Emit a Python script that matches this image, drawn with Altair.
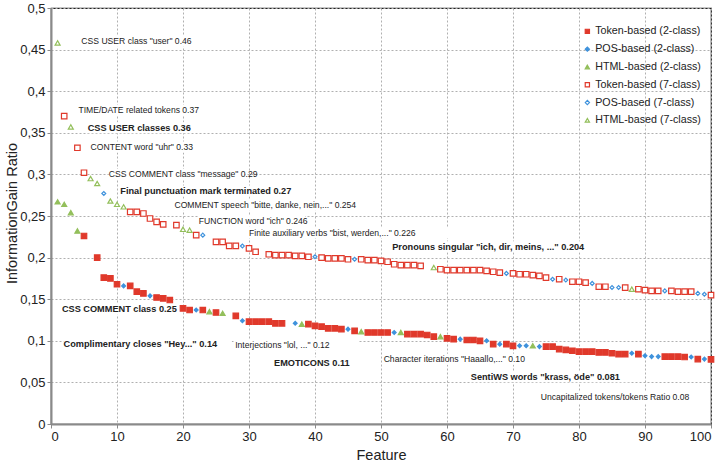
import altair as alt
import pandas as pd

# ---------------- data ----------------
# 7-class series (hollow markers): feature rank, feature type, information gain ratio
up_x = [1, 2, 3, 4, 5, 6, 7, 8, 9, 10, 11, 12, 13, 14, 15, 16, 17, 19, 20, 21, 22, 23,
        25, 26, 27, 28, 29, 30, 31, 33, 34, 35, 36, 37, 38, 39, 40, 41, 42, 43, 44, 45,
        46, 47, 48, 49, 50, 51, 52, 53, 54, 55, 56, 58, 59, 60, 61, 62, 63, 64, 65, 66,
        67, 68, 69, 70, 71, 72, 73, 74, 75, 76, 77, 78, 79, 80, 81, 82, 83, 84, 85, 86,
        87, 88, 89, 90, 91, 92, 93, 94, 95, 96, 97, 98, 99, 100]
up_t = ["H", "T", "H", "T", "T", "H", "H", "P", "H", "H", "H", "T", "T", "T", "T", "T", "T", "T", "H", "H", "T", "P",
        "T", "T", "T", "T", "P", "T", "T", "T", "T", "T", "T", "T", "T", "T", "P", "T", "T", "T", "T", "T",
        "P", "T", "T", "T", "T", "T", "T", "T", "T", "T", "T", "H", "T", "T", "T", "T", "T", "T", "T", "T",
        "T", "T", "P", "T", "T", "T", "T", "T", "T", "P", "T", "P", "T", "T", "T", "P", "T", "T", "P", "P",
        "T", "H", "T", "T", "T", "T", "P", "T", "T", "T", "T", "P", "P", "T"]
up_y = [0.458, 0.370, 0.357, 0.332, 0.302, 0.295, 0.289, 0.277, 0.268, 0.264, 0.261, 0.255, 0.255, 0.253,
        0.247, 0.243, 0.240, 0.239, 0.234, 0.233, 0.227, 0.227,
        0.219, 0.219, 0.214, 0.214, 0.214, 0.211, 0.207, 0.204, 0.203, 0.203, 0.203, 0.202, 0.202, 0.201,
        0.201, 0.200, 0.199, 0.199, 0.199, 0.198,
        0.198, 0.198, 0.197, 0.197, 0.196, 0.195, 0.192, 0.191, 0.191, 0.191, 0.190, 0.188, 0.186, 0.185,
        0.185, 0.185, 0.185, 0.185, 0.185, 0.184,
        0.183, 0.182, 0.181, 0.181, 0.180, 0.180, 0.179, 0.178, 0.176, 0.174, 0.174, 0.173, 0.171, 0.171,
        0.170, 0.169, 0.165, 0.165, 0.164, 0.164,
        0.164, 0.162, 0.162, 0.161, 0.160, 0.160, 0.160, 0.160, 0.159, 0.159, 0.159, 0.157, 0.156, 0.155]

# 2-class series (filled markers)
lo_x = [1, 2, 3, 4, 5, 7, 8, 9, 10, 11, 12, 13, 14, 15, 16, 17, 18, 20, 21, 22, 23, 24, 25, 26,
        28, 29, 30, 31, 32, 33, 34, 35, 37, 38, 39, 40, 41, 42, 43, 44, 45, 46, 47, 48, 49, 50,
        51, 52, 53, 54, 55, 56, 57, 58, 59, 60, 61, 62, 63, 64, 65, 66, 67, 68, 69, 70, 71, 72,
        73, 74, 75, 76, 77, 78, 79, 80, 81, 82, 83, 84, 85, 86, 87, 88, 89, 90, 91, 92, 93, 94,
        95, 96, 97, 98, 99, 100]
lo_t = ["H", "H", "H", "H", "T", "T", "T", "T", "T", "P", "T", "T", "T", "P", "T", "T", "T", "T", "T", "P", "T", "H", "T", "H",
        "T", "P", "T", "T", "T", "T", "T", "T", "P", "H", "T", "T", "T", "T", "T", "T", "P", "T", "H", "T", "T", "T",
        "T", "P", "H", "T", "T", "T", "T", "T", "H", "T", "T", "P", "T", "T", "T", "P", "T", "P", "T", "T", "P", "P",
        "H", "P", "T", "T", "T", "T", "T", "T", "T", "T", "T", "T", "T", "T", "T", "P", "T", "P", "P", "P", "T", "T",
        "T", "T", "P", "T", "P", "T"]
lo_y = [0.267, 0.264, 0.254, 0.232, 0.226, 0.200, 0.176, 0.175, 0.168, 0.166, 0.166, 0.159, 0.157, 0.154,
        0.152, 0.151, 0.149, 0.139, 0.137, 0.137, 0.137, 0.135, 0.134, 0.133,
        0.130, 0.124, 0.123, 0.123, 0.123, 0.123, 0.121, 0.121, 0.121, 0.120, 0.120, 0.118, 0.117, 0.115,
        0.115, 0.114, 0.114, 0.112, 0.111, 0.110, 0.110, 0.110,
        0.110, 0.110, 0.110, 0.108, 0.108, 0.108, 0.107, 0.105, 0.105, 0.103, 0.102, 0.102, 0.101, 0.101,
        0.100, 0.100, 0.096, 0.096, 0.096, 0.094, 0.094, 0.094,
        0.094, 0.093, 0.093, 0.093, 0.090, 0.089, 0.088, 0.087, 0.087, 0.087, 0.086, 0.086, 0.085, 0.084,
        0.084, 0.085, 0.084, 0.082, 0.081, 0.081, 0.081, 0.081,
        0.081, 0.0805, 0.0805, 0.078, 0.078, 0.0777]

type_names = {"T": "Token-based", "P": "POS-based", "H": "HTML-based"}
series_order = ["Token-based (2-class)", "POS-based (2-class)", "HTML-based (2-class)",
                "Token-based (7-class)", "POS-based (7-class)", "HTML-based (7-class)"]

# annotations
ann_text = ['CSS USER class "user" 0.46', 'TIME/DATE related tokens 0.37', 'CSS USER classes 0.36',
            'CONTENT word "uhr" 0.33', 'CSS COMMENT class "message" 0.29',
            'Final punctuation mark terminated 0.27', 'COMMENT speech "bitte, danke, nein,..." 0.254',
            'FUNCTION word "ich" 0.246', 'Finite auxiliary verbs "bist, werden,..." 0.226',
            'Pronouns singular "ich, dir, meins, ..." 0.204', 'CSS COMMENT class 0.25',
            'Complimentary closes "Hey..." 0.14', 'Interjections "lol, ..." 0.12', 'EMOTICONS 0.11',
            'Character iterations "Haaallo,..." 0.10', 'SentiWS words "krass, öde" 0.081',
            'Uncapitalized tokens/tokens Ratio 0.08']
ann_x = [4.6, 4.15, 5.55, 6.0, 8.75, 10.5, 18.7, 22.4, 30.0, 51.7, 1.65, 1.9, 27.9, 33.8, 50.4, 63.6, 74.2]
ann_y = [0.460, 0.377, 0.356, 0.333, 0.300, 0.280, 0.263, 0.244, 0.230, 0.213, 0.138, 0.0962, 0.095,
         0.0737, 0.0777, 0.0569, 0.032]
ann_bold = [False, False, True, False, False, True, False, False, False, True, True, True, False, True,
            False, True, False]

# ---------------- tables ----------------
rows = []
for x, t, y in zip(lo_x, lo_t, lo_y):
    rows.append({"x": x, "y": y, "kind": t, "series": f"{type_names[t]} (2-class)"})
for x, t, y in zip(up_x, up_t, up_y):
    rows.append({"x": x, "y": y, "kind": t, "series": f"{type_names[t]} (7-class)"})
pts = pd.DataFrame(rows)

ann = pd.DataFrame({"x": ann_x, "y": ann_y, "label": ann_text, "bold": ann_bold})
px_per_unit_x = 660 / 100
px_per_unit_y = 416 / 0.5
ann["x2"] = ann["x"] + ann["label"].str.len() * ann["bold"].map({True: 4.95, False: 4.25}) / px_per_unit_x
ann["ylo"] = ann["y"] - 5.5 / px_per_unit_y
ann["yhi"] = ann["y"] + 5.5 / px_per_unit_y

RED, BLUE, GREEN = "#e0392b", "#3f92dc", "#93bf5b"
FONT = "Liberation Sans"

x_scale = alt.Scale(domain=[0, 100], nice=False, zero=True)
y_scale = alt.Scale(domain=[0, 0.5], nice=False)
x_axis = alt.Axis(values=list(range(0, 101, 10)), title="Feature", titleY=31, titleBaseline="middle")
y_axis = alt.Axis(values=[0, 0.05, 0.1, 0.15, 0.2, 0.25, 0.3, 0.35, 0.4, 0.45, 0.5],
                  labelExpr="replace(format(datum.value, '.2~f'), '.', ',')",
                  title="InformationGain Ratio", titleAngle=270, titleX=-35, titleY=205,
                  titleAlign="center", titleBaseline="alphabetic")
X = alt.X("x:Q", scale=x_scale, axis=x_axis)
Y = alt.Y("y:Q", scale=y_scale, axis=y_axis)

stroke_scale = alt.Scale(domain=series_order, range=[RED, BLUE, GREEN, RED, BLUE, GREEN])
fill_scale = alt.Scale(domain=series_order, range=[RED, BLUE, GREEN, "white", "white", "white"])
shape_scale = alt.Scale(domain=series_order,
                        range=["square", "diamond", "triangle-up", "square", "diamond", "triangle-up"])
legend = alt.Legend(title=None, orient="none", legendX=531, legendY=18)

def layer(kind, size):
    return alt.Chart(pts).transform_filter(alt.datum.kind == kind).mark_point(
        size=size, strokeWidth=1.2, opacity=1
    ).encode(
        x=X, y=Y,
        stroke=alt.Stroke("series:N", scale=stroke_scale, legend=legend),
        fill=alt.Fill("series:N", scale=fill_scale, legend=legend),
        shape=alt.Shape("series:N", scale=shape_scale, legend=legend),
    )

boxes = alt.Chart(ann).mark_rect(color="white").encode(
    x=X, x2="x2:Q", y=alt.Y("ylo:Q", scale=y_scale, axis=y_axis), y2="yhi:Q")

txt_reg = alt.Chart(ann).transform_filter(alt.datum.bold == False).mark_text(
    align="left", baseline="middle", font=FONT, fontSize=8.6, color="#222222"
).encode(x=X, y=Y, text="label:N")
txt_bold = alt.Chart(ann).transform_filter(alt.datum.bold == True).mark_text(
    align="left", baseline="middle", font=FONT, fontSize=9.2, fontWeight="bold", color="#222222"
).encode(x=X, y=Y, text="label:N")

chart = alt.layer(
    boxes, layer("T", 30), layer("P", 15), layer("H", 25), txt_reg, txt_bold
).properties(
    width=660, height=416,
    autosize=alt.AutoSizeParams(type="none"),
    padding={"left": 51, "top": 8, "right": 10, "bottom": 43},
).configure_view(
    stroke="#222222", strokeWidth=1.2
).configure_axis(
    labelFont=FONT, titleFont=FONT, labelFontSize=13, titleFontSize=14.5,
    titleFontWeight="normal", labelColor="#222222", titleColor="#222222",
    domainColor="#8a8a8a", domainWidth=2, tickColor="#8a8a8a", tickSize=4, tickWidth=1,
    labelPadding=2, gridColor="#b0b0b0", gridDash=[2, 2], gridWidth=1,
).configure_legend(
    labelFont=FONT, labelFontSize=10.7, labelColor="#222222", symbolSize=18,
    symbolStrokeWidth=1.2, rowPadding=5.8, labelOffset=2.5, padding=0,
)

chart.save("out.html", embed_options={"renderer": "svg", "actions": False})
